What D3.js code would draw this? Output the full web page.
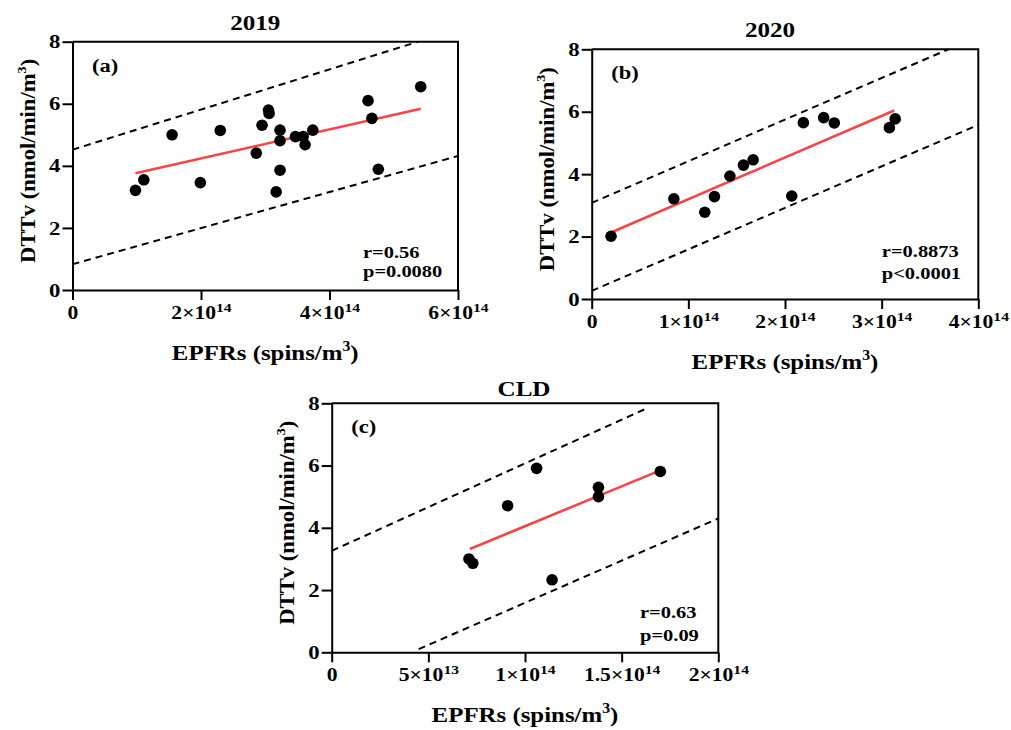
<!DOCTYPE html>
<html><head><meta charset="utf-8">
<script src="https://cdn.jsdelivr.net/npm/d3@7"></script>
<style>
body{margin:0;background:#fff;}
svg{display:block;font-family:"Liberation Serif","Times New Roman",serif;font-weight:bold;}
</style></head><body>
<svg id="chart" width="1011" height="730"></svg>
<script>
// ---------- DATA (EPFRs in units of 1e14 spins/m3; DTTv in nmol/min/m3) ----------
// Panel (a) 2019
const epfr2019 = [0.98,1.11,1.55,1.99,2.30,2.86,2.95,3.05,3.06,3.23,3.23,3.23,3.17,3.47,3.59,3.62,3.74,4.60,4.66,4.76,5.42];
const dttv2019 = [3.21,3.55,5.00,3.46,5.14,4.41,5.31,5.80,5.69,5.15,4.81,3.86,3.16,4.94,4.94,4.68,5.15,6.10,5.53,3.89,6.55];
const fit2019 = [[0.98,3.76],[5.42,5.84]];
const upper2019 = [[0,4.52],[5.38,8]];
const lower2019 = [[0,0.83],[6,4.32]];
const xTicks2019 = [0,2,4,6];
const xTickLabels2019 = [["0",""],["2×10","14"],["4×10","14"],["6×10","14"]];
const stats2019 = ["r=0.56","p=0.0080"];

// Panel (b) 2020
const epfr2020 = [0.20,0.85,1.17,1.27,1.43,1.57,1.67,2.07,2.19,2.40,2.51,3.08,3.14];
const dttv2020 = [2.01,3.21,2.78,3.28,3.94,4.29,4.46,3.30,5.65,5.81,5.64,5.49,5.77];
const fit2020 = [[0.20,2.13],[3.13,6.04]];
const upper2020 = [[0,3.08],[3.69,8]];
const lower2020 = [[0,0.26],[4,5.58]];
const xTicks2020 = [0,1,2,3,4];
const xTickLabels2020 = [["0",""],["1×10","14"],["2×10","14"],["3×10","14"],["4×10","14"]];
const stats2020 = ["r=0.8873","p<0.0001"];

// Panel (c) CLD
const epfrCLD = [0.71,0.73,0.91,1.06,1.14,1.38,1.38,1.70];
const dttvCLD = [3.00,2.86,4.71,5.91,2.33,5.30,5.00,5.81];
const fitCLD = [[0.715,3.32],[1.694,5.83]];
const upperCLD = [[0,3.26],[1.62,7.81]];
const lowerCLD = [[0.45,0.10],[2,4.30]];
const xTicksCLD = [0,0.5,1,1.5,2];
const xTickLabelsCLD = [["0",""],["5×10","13"],["1×10","14"],["1.5×10","14"],["2×10","14"]];
const statsCLD = ["r=0.63","p=0.09"];

const yTicks = [0,2,4,6,8];
const yDomain = [0,8];

// ---------- LAYOUT ----------
const panels = [
  {title:"2019", tag:"(a)", xs:epfr2019, ys:dttv2019, fit:fit2019, up:upper2019, lo:lower2019,
   xDomain:[0,6], xTicks:xTicks2019, xLabels:xTickLabels2019, stats:stats2019,
   left:72.5, top:41.7, right:458, bottom:290, titleDx:-10, titleY:30, statsDx:-95, statsY:[-32.5,-13]},
  {title:"2020", tag:"(b)", xs:epfr2020, ys:dttv2020, fit:fit2020, up:upper2020, lo:lower2020,
   xDomain:[0,4], xTicks:xTicks2020, xLabels:xTickLabels2020, stats:stats2020,
   left:591.7, top:49.3, right:978.3, bottom:299, titleDx:-15, titleY:36.5, statsDx:-96.5, statsY:[-42,-20]},
  {title:"CLD", tag:"(c)", xs:epfrCLD, ys:dttvCLD, fit:fitCLD, up:upperCLD, lo:lowerCLD,
   xDomain:[0,2], xTicks:xTicksCLD, xLabels:xTickLabelsCLD, stats:statsCLD,
   left:331.7, top:403.3, right:718.3, bottom:652.3, titleDx:-1, titleY:396, statsDx:-78.3, statsY:[-34,-11]}
];

const svg = d3.select("#chart");
const SX = 1.2; // horizontal glyph stretch of the original typeface

function addText(parent, x, y, size, k, anchor, rotate) {
  let tr = `translate(${x},${y})`;
  if (rotate) tr += ` rotate(${rotate})`;
  tr += ` scale(${k},1)`;
  return parent.append("text").attr("transform", tr).attr("font-size", size)
    .attr("text-anchor", anchor || "start").attr("fill", "#000");
}

function drawPanel(p) {
  const x = d3.scaleLinear().domain(p.xDomain).range([p.left, p.right]);
  const y = d3.scaleLinear().domain(yDomain).range([p.bottom, p.top]);
  const g = svg.append("g");
  const line = d3.line().x(d => x(d[0])).y(d => y(d[1]));

  // dashed bands
  [p.up, p.lo].forEach(seg => {
    g.append("path").attr("d", line(seg)).attr("fill", "none").attr("stroke", "#000")
      .attr("stroke-width", 2).attr("stroke-dasharray", "7,5");
  });
  // regression line
  g.append("path").attr("d", line(p.fit)).attr("fill", "none").attr("stroke", "#f44646")
    .attr("stroke-width", 2.6);
  // points
  g.selectAll("circle.pt").data(p.xs.map((v, i) => [v, p.ys[i]])).join("circle")
    .attr("class", "pt").attr("cx", d => x(d[0])).attr("cy", d => y(d[1])).attr("r", 5.8).attr("fill", "#000");

  // frame (top & right)
  g.append("path").attr("d", `M${p.left},${p.top}H${p.right}V${p.bottom}`)
    .attr("fill", "none").attr("stroke", "#000").attr("stroke-width", 2);

  // x axis
  const xa = g.append("g").attr("transform", `translate(0,${p.bottom})`)
    .call(d3.axisBottom(x).tickValues(p.xTicks).tickSize(10).tickSizeOuter(0).tickPadding(6).tickFormat(""));
  xa.attr("font-size", null).attr("font-family", null);
  xa.selectAll("path,line").attr("stroke-width", 2).attr("stroke", "#000");
  xa.selectAll(".tick text").each(function(d, i) {
    const t = d3.select(this);
    const lab = p.xLabels[i];
    t.text(null).attr("font-size", 18).attr("fill", "#000").attr("transform", `scale(${SX},1)`);
    t.append("tspan").text(lab[0]);
    if (lab[1]) t.append("tspan").attr("font-size", 13).attr("dy", -7).text(lab[1]);
  });

  // y axis
  const ya = g.append("g").attr("transform", `translate(${p.left},0)`)
    .call(d3.axisLeft(y).tickValues(yTicks).tickSize(10).tickSizeOuter(0).tickPadding(2));
  ya.attr("font-size", null).attr("font-family", null);
  ya.selectAll("path,line").attr("stroke-width", 2).attr("stroke", "#000");
  ya.selectAll(".tick text").attr("font-size", 19).attr("fill", "#000")
    .attr("x", -12 / SX).attr("transform", `scale(${SX},1)`);

  // title
  addText(svg, (p.left + p.right) / 2 + p.titleDx, p.titleY, 22, 1.14, "middle").text(p.title);

  // panel tag
  addText(svg, p.left + 19.5, p.top + 30, 18, 1.25, "start").text(p.tag);

  // stats
  addText(svg, p.right + p.statsDx, p.bottom + p.statsY[0], 16, 1.28, "start").text(p.stats[0]);
  addText(svg, p.right + p.statsDx, p.bottom + p.statsY[1], 16, 1.28, "start").text(p.stats[1]);

  // x label
  const xl = addText(svg, (p.left + p.right) / 2, p.bottom + 70, 22, 1.13, "middle");
  xl.append("tspan").text("EPFRs (spins/m");
  xl.append("tspan").attr("font-size", 14).attr("dy", -9).text("3");
  xl.append("tspan").attr("dy", 9).text(")");

  // y label
  const yl = addText(svg, p.left - 38, (p.top + p.bottom) / 2 - 5, 21, 1.08, "middle", -90);
  yl.append("tspan").text("DTTv (nmol/min/m");
  yl.append("tspan").attr("font-size", 13).attr("dy", -9).text("3");
  yl.append("tspan").attr("dy", 9).text(")");
}

panels.forEach(drawPanel);
</script>
</body></html>
